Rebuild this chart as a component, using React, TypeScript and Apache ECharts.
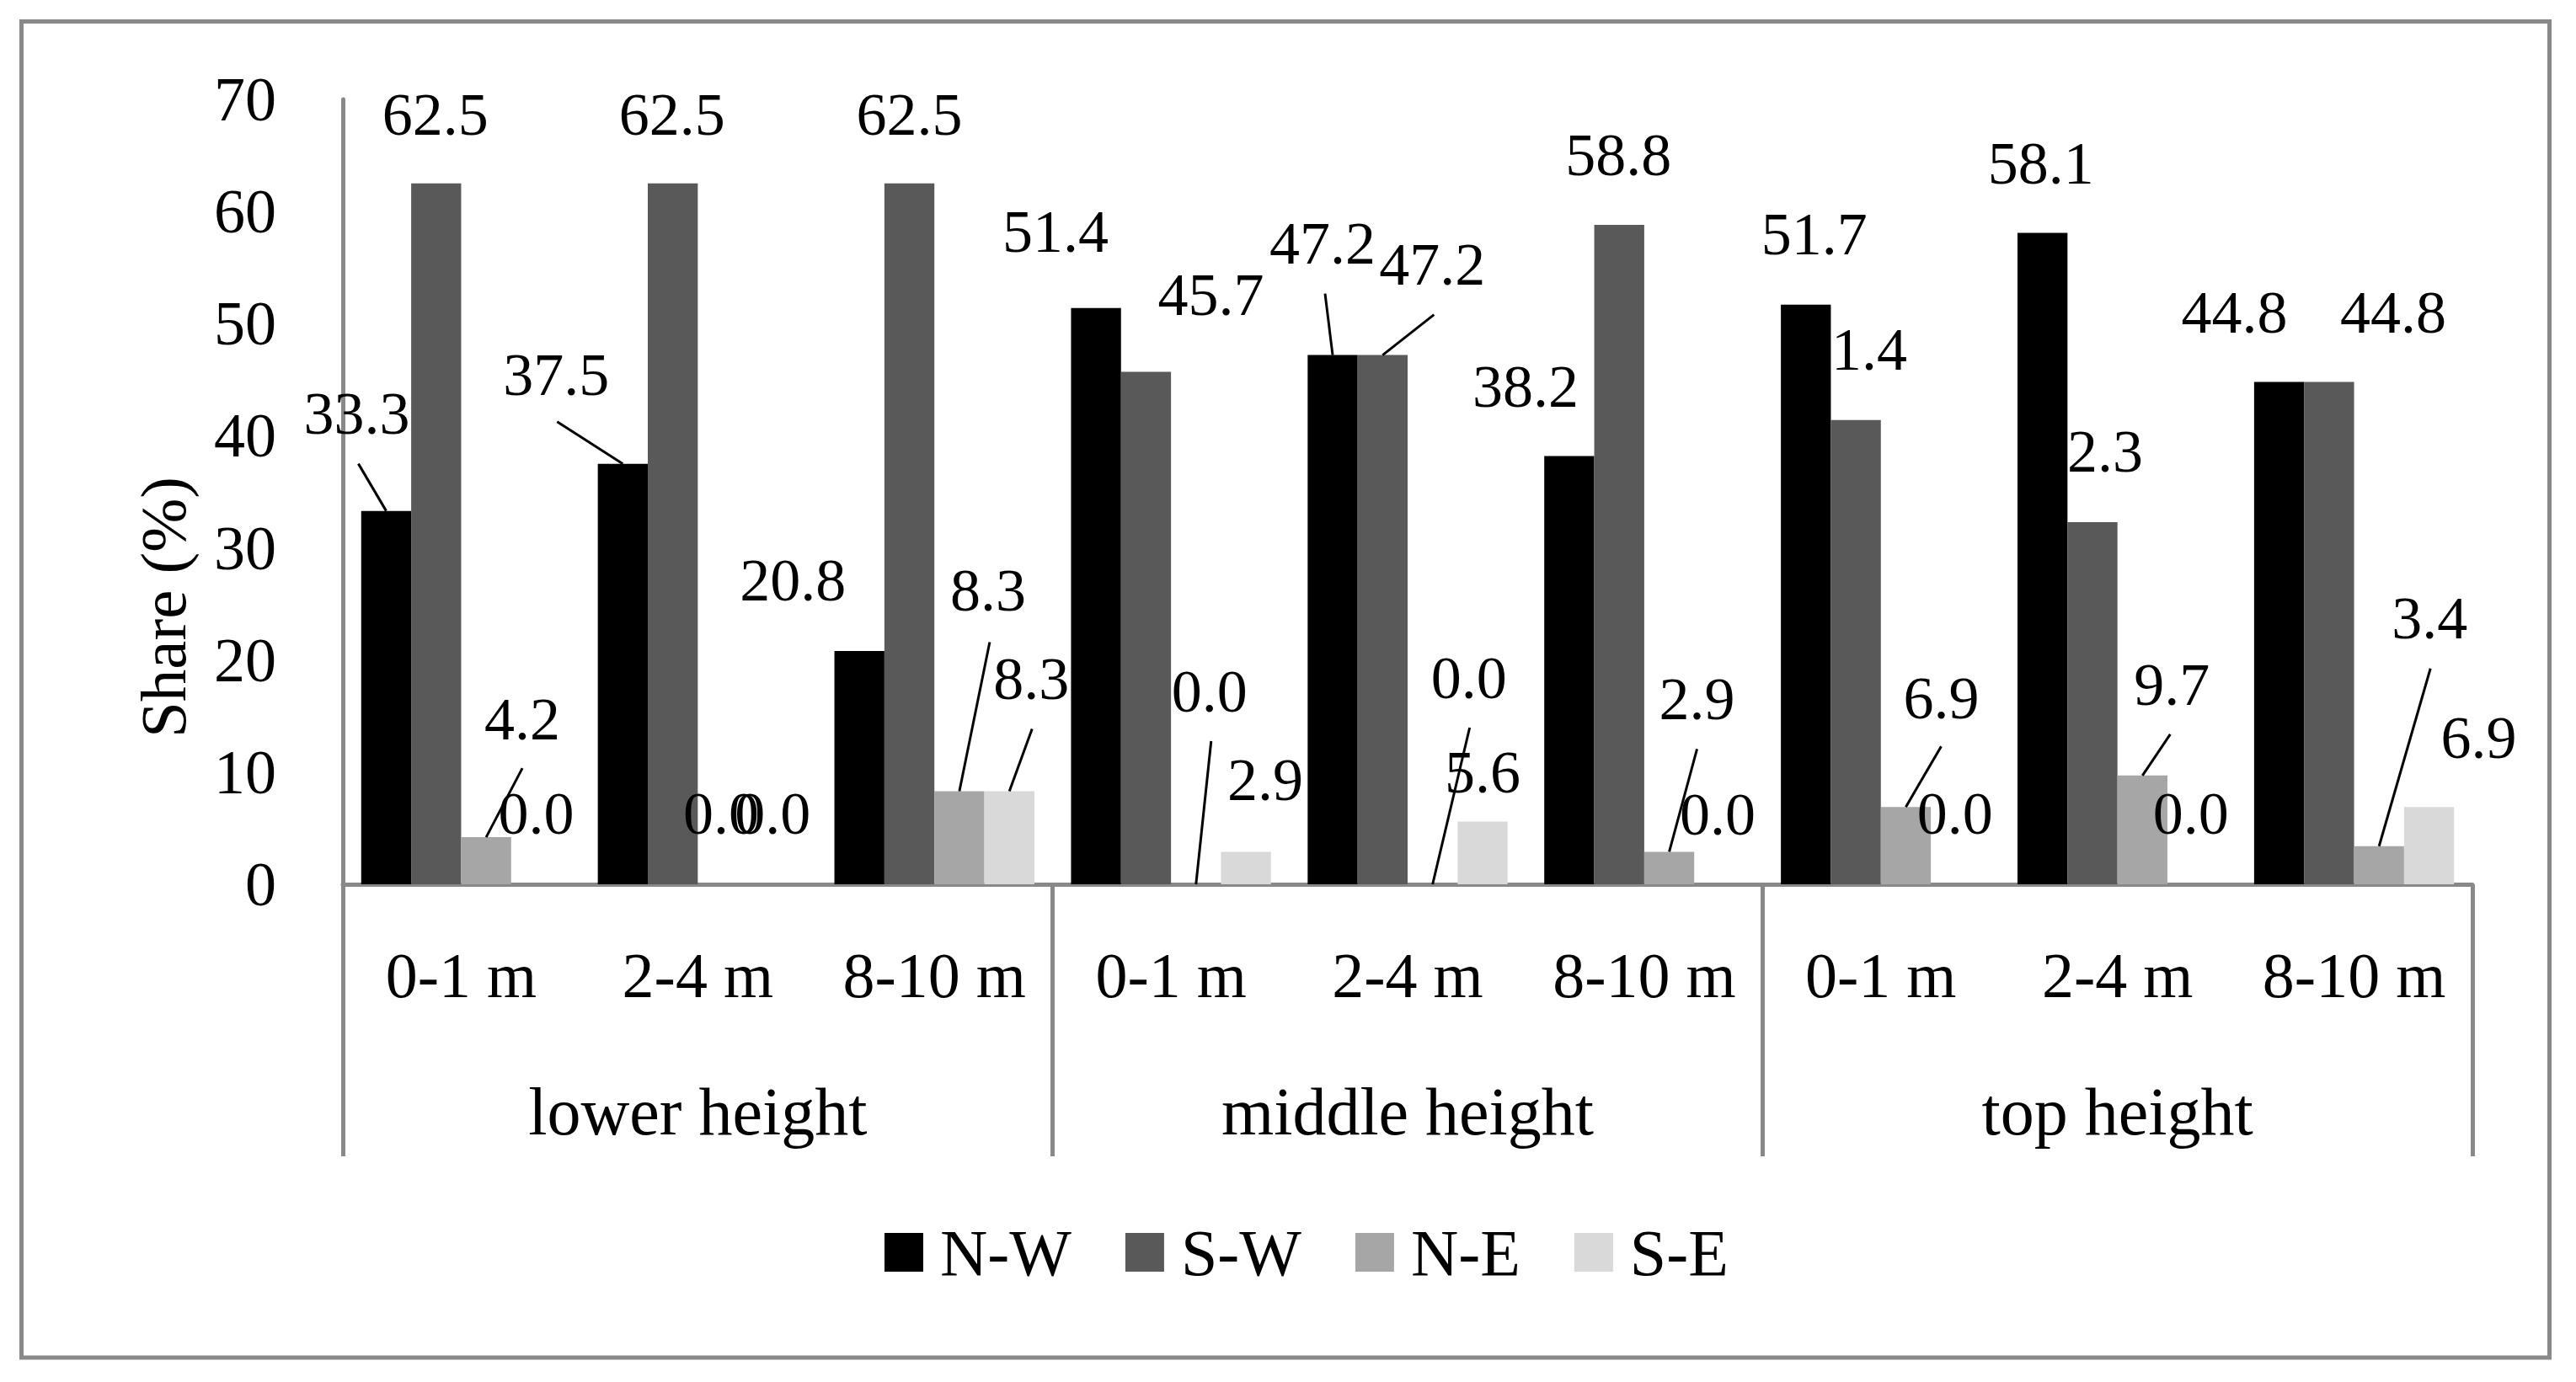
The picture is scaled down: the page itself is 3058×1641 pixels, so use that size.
import React, { useEffect, useRef } from 'react';
import * as echarts from 'echarts';

// ---------- data ----------
const SUB_CATEGORIES = ['0-1 m', '2-4 m', '8-10 m', '0-1 m', '2-4 m', '8-10 m', '0-1 m', '2-4 m', '8-10 m'];
const GROUPS = ['lower height', 'middle height', 'top height'];
const SERIES_NAMES = ['N-W', 'S-W', 'N-E', 'S-E'];
const NW = [33.3, 37.5, 20.8, 51.4, 47.2, 38.2, 51.7, 58.1, 44.8];
const SW = [62.5, 62.5, 62.5, 45.7, 47.2, 58.8, 41.4, 32.3, 44.8];
const NE = [4.2, 0.0, 8.3, 0.0, 0.0, 2.9, 6.9, 9.7, 3.4];
const SE = [0.0, 0.0, 8.3, 2.9, 5.6, 0.0, 0.0, 0.0, 6.9];
const Y_MIN = 0;
const Y_MAX = 70;
const Y_STEP = 10;
const Y_TITLE = 'Share (%)';

// ---------- styling ----------
const VALUES = [NW, SW, NE, SE];
const COLORS = ['#000000', '#595959', '#a6a6a6', '#d9d9d9'];
const FONT = '"Liberation Serif", "Times New Roman", serif';
const AXIS_GRAY = '#898989';
const CAT_GAP = 0.155;

// label offsets (px) from the top-centre of each bar to the label centre
const LABEL_DX = [
  [-35, -79, -79, -48, -12, -52, 10, -2, -53],
  [-1, -1, 0, 77, 59, -1, -2, -3, 76],
  [43, -2, 34, 16, 43, 33, 42, 35, 60],
  [0, 0, 26, 23, 0, -2, -1, -2, 59],
];
const LABEL_DY = [
  [-116, -106, -84, -91, -133, -82, -84, -82, -83],
  [-82, -82, -82, -92, -108, -83, -84, -84, -83],
  [-140, -84, -238, -229, -245, -181, -129, -108, -271],
  [-84, -84, -133, -85, -58, -83, -84, -84, -82],
];
// leader lines: [category, series, start dx, start dy] relative to bar top-centre
const LEADERS: number[][] = [
  [0, 0, -33, -56],
  [1, 0, -78, -50],
  [0, 2, 43, -82],
  [2, 2, 36, -177],
  [2, 3, 27, -74],
  [3, 2, 18, -170],
  [4, 0, -9, -73],
  [4, 1, 61, -48],
  [4, 2, 44, -186],
  [5, 2, 33, -122],
  [6, 2, 42, -72],
  [7, 2, 33, -49],
  [8, 2, 61, -211],
];

export default function App() {
  const ref = useRef<HTMLDivElement>(null);
  useEffect(() => {
    document.body.style.margin = '0';
    document.body.style.overflow = 'hidden';
    const chart = echarts.init(ref.current!, null, { renderer: 'svg' });

    const barSeries = SERIES_NAMES.map((name, i) => ({
      type: 'bar',
      name,
      data: VALUES[i],
      xAxisIndex: 0,
      barGap: '0%',
      barCategoryGap: CAT_GAP * 100 + '%',
      itemStyle: { color: COLORS[i] },
      z: 2,
      label: {
        show: true,
        position: 'top',
        formatter: (p: any) => Number(p.value).toFixed(1),
        fontFamily: FONT,
        fontSize: 72,
        color: '#000',
      },
      labelLayout: (p: any) => ({
        x: p.rect.x + p.rect.width / 2 + LABEL_DX[i][p.dataIndex],
        y: p.rect.y + LABEL_DY[i][p.dataIndex],
        align: 'center',
        verticalAlign: 'middle',
      }),
    }));

    const leaderSeries = {
      type: 'custom',
      name: 'leaders',
      xAxisIndex: 0,
      silent: true,
      z: 5,
      encode: { x: 0, y: 2 },
      data: LEADERS.map(([c, s, dx, dy]) => [c, s, VALUES[s][c], dx, dy]),
      renderItem: (params: any, api: any) => {
        const c = api.value(0);
        const s = api.value(1);
        const v = api.value(2);
        const top = api.coord([c, v]);
        const band = api.size([1, 0])[0];
        const w = (band * (1 - CAT_GAP)) / 4;
        const cx = top[0] + (s - 1.5) * w;
        return {
          type: 'line',
          shape: { x1: cx + api.value(3), y1: top[1] + api.value(4), x2: cx, y2: top[1] },
          style: { stroke: '#000', lineWidth: 3 },
        };
      },
    };

    chart.setOption({
      animation: false,
      backgroundColor: '#ffffff',
      grid: { left: 407, right: 123, top: 118, bottom: 591, containLabel: false, outerBoundsMode: 'none' },
      legend: {
        data: SERIES_NAMES,
        left: 1045,
        top: 1443,
        itemWidth: 46,
        itemHeight: 46,
        itemGap: 64,
        icon: 'rect',
        textStyle: { fontFamily: FONT, fontSize: 78, color: '#000', padding: [0, 0, 0, 15] },
      },
      xAxis: [
        {
          type: 'category',
          data: SUB_CATEGORIES,
          position: 'bottom',
          axisLine: { show: true, lineStyle: { color: AXIS_GRAY, width: 5 } },
          axisTick: { show: false },
          axisLabel: { interval: 0, margin: 70, fontFamily: FONT, fontSize: 76, color: '#000' },
          splitLine: { show: false },
        },
        {
          type: 'category',
          data: GROUPS,
          position: 'bottom',
          axisLine: { show: false },
          axisTick: { show: true, interval: 0, length: 323, lineStyle: { color: AXIS_GRAY, width: 5 } },
          axisLabel: { interval: 0, margin: 230, fontFamily: FONT, fontSize: 80, color: '#000' },
          splitLine: { show: false },
        },
      ],
      yAxis: {
        type: 'value',
        min: Y_MIN,
        max: Y_MAX,
        interval: Y_STEP,
        axisLine: { show: true, lineStyle: { color: AXIS_GRAY, width: 5 } },
        axisTick: { show: false },
        splitLine: { show: false },
        axisLabel: { fontFamily: FONT, fontSize: 74, color: '#000', margin: 79 },
      },
      graphic: [
        {
          type: 'rect',
          silent: true,
          z: -1,
          shape: { x: 25.5, y: 25.5, width: 3001, height: 1586.5 },
          style: { fill: 'none', stroke: AXIS_GRAY, lineWidth: 5 },
        },
        {
          type: 'text',
          silent: true,
          x: 194,
          y: 721,
          rotation: Math.PI / 2,
          style: {
            text: Y_TITLE,
            fontFamily: FONT,
            fontSize: 77,
            fill: '#000',
            align: 'center',
            verticalAlign: 'middle',
          },
        },
      ],
      series: [...barSeries, leaderSeries],
    });

    return () => chart.dispose();
  }, []);

  return <div ref={ref} style={{ width: 3058, height: 1641 }} />;
}
